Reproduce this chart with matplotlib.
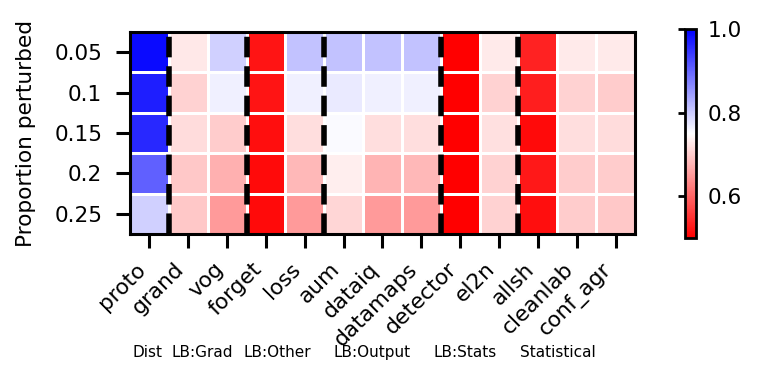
import numpy as np
import matplotlib
matplotlib.use('Agg')
from matplotlib import pyplot as plt
from matplotlib import transforms

# methods (columns) and proportions (rows)
methods = ['proto', 'grand', 'vog', 'forget', 'loss', 'aum', 'dataiq',
           'datamaps', 'detector', 'el2n', 'allsh', 'cleanlab', 'conf_agr']
proportions = ['0.05', '0.1', '0.15', '0.2', '0.25']

row_005 = [0.99, 0.727, 0.795, 0.52, 0.81, 0.81, 0.81, 0.81, 0.50, 0.73, 0.535, 0.73, 0.73]
row_010 = [0.97, 0.706, 0.765, 0.52, 0.765, 0.77, 0.765, 0.765, 0.50, 0.706, 0.53, 0.706, 0.70]
row_015 = [0.96, 0.716, 0.70, 0.515, 0.718, 0.755, 0.718, 0.718, 0.50, 0.72, 0.51, 0.718, 0.716]
row_020 = [0.905, 0.696, 0.672, 0.51, 0.681, 0.733, 0.676, 0.681, 0.50, 0.706, 0.525, 0.70, 0.70]
row_025 = [0.795, 0.696, 0.652, 0.51, 0.652, 0.71, 0.652, 0.652, 0.50, 0.706, 0.515, 0.70, 0.696]

# group separators (after column index) and group names
group_breaks = [1, 3, 5, 8, 10]
group_names = ['Dist', 'LB:Grad', 'LB:Other', 'LB:Output', 'LB:Stats', 'Statistical']
group_label_x = [0.44, 1.85, 3.78, 6.23, 8.62, 11.02]

data = np.array([row_005, row_010, row_015, row_020, row_025])

plt.rcParams['font.family'] = 'DejaVu Sans'
fig = plt.figure(figsize=(3.81, 1.91), dpi=200)
ax = fig.add_axes([0.1706, 0.3874, 0.6627, 0.5288])
cax = fig.add_axes([0.8985, 0.377, 0.0150, 0.547])

# heatmap with white cell borders
mesh = ax.pcolormesh(data, cmap='bwr_r', vmin=0.5, vmax=1.0,
                     edgecolors='white', linewidth=0.4)
ax.set_xlim(0, len(methods))
ax.set_ylim(len(proportions), 0)

# dashed separators between method groups
for b in group_breaks:
    ax.axvline(b, color='black', linestyle='--', linewidth=2)

ax.set_xticks(np.arange(len(methods)) + 0.5)
ax.set_xticklabels(methods, rotation=45, ha='right', fontsize=7.8)
ax.set_yticks(np.arange(len(proportions)) + 0.5)
ax.set_yticklabels(proportions, fontsize=7.8)
ax.tick_params(axis='x', length=5, width=1.1, pad=4)
ax.tick_params(axis='y', length=5, width=1.1, pad=5)
ax.set_ylabel('Proportion perturbed', fontsize=7.8, labelpad=6.5)
for sp in ax.spines.values():
    sp.set_linewidth(1.1)

# group names under the tick labels
trans = transforms.blended_transform_factory(ax.transData, fig.transFigure)
for name, gx in zip(group_names, group_label_x):
    fig.text(gx, 0.0785, name, transform=trans, ha='center', va='center',
             fontsize=5.5)

# colorbar: ticks on the left, labels on the right
cbar = fig.colorbar(mesh, cax=cax, ticks=[0.6, 0.8, 1.0])
cbar.outline.set_linewidth(1.0)
cax.yaxis.set_ticks_position('left')
cax.tick_params(which='both', left=True, right=False, labelleft=False,
                labelright=True, length=2.5, width=1.0, labelsize=7.8)
for t in cax.yaxis.get_major_ticks():
    t.set_pad(1.5)
cax.minorticks_off()

plt.savefig('out.png', dpi=200)
